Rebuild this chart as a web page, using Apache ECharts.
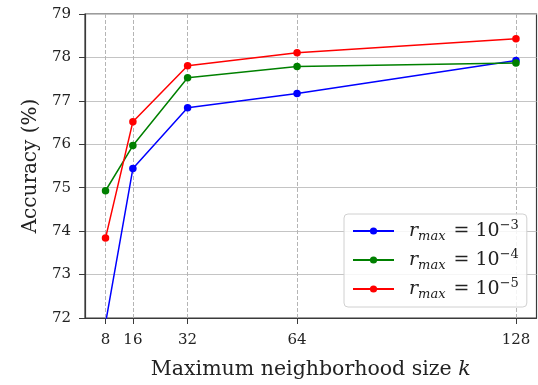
<!DOCTYPE html>
<html>
<head>
<meta charset="utf-8">
<script src="https://cdn.jsdelivr.net/npm/echarts@6/dist/echarts.min.js"></script>
<style>html,body{margin:0;padding:0;background:#fff;}#chart{width:538px;height:385px;}</style>
</head>
<body>
<div id="chart"></div>
<script>
const xTicks = [8, 16, 32, 64, 128];
const kValues = [8, 16, 32, 64, 128];
const accR3 = [71.88, 75.44, 76.84, 77.17, 77.93];
const accR4 = [74.93, 75.97, 77.53, 77.79, 77.87];
const accR5 = [73.84, 76.52, 77.81, 78.11, 78.43];
const seriesNames = ['r3', 'r4', 'r5'];
const seriesExp = ['−3', '−4', '−5'];
const seriesColors = ['#0000ff', '#008000', '#ff0000'];
const yMin = 72, yMax = 79, yStep = 1;
const xMin = 2, xMax = 134;

const font = 'DejaVu Serif';
const chart = echarts.init(document.getElementById('chart'), null, {renderer: 'canvas'});
const allData = [accR3, accR4, accR5];
const series = allData.map((vals, i) => ({
  name: seriesNames[i],
  type: 'line',
  data: kValues.map((k, j) => [k, vals[j]]),
  symbol: 'circle',
  symbolSize: 7.5,
  clip: true,
  color: seriesColors[i],
  lineStyle: {width: 1.5, color: seriesColors[i]},
  itemStyle: {color: seriesColors[i]},
  animation: false,
  z: 3 + i
}));

chart.setOption({
  animation: false,
  grid: {left: 85, right: 1.5, top: 14, bottom: 65.5, show: true, borderColor: '#3a3a3a', borderWidth: 1.2, containLabel: false},
  legend: {
    orient: 'vertical',
    left: 344, top: 214,
    padding: [5, 8, 6, 8],
    itemGap: 5,
    itemWidth: 41, itemHeight: 9,
    backgroundColor: 'rgba(255,255,255,0.85)',
    borderColor: '#d0d0d0', borderWidth: 1, borderRadius: 4,
    data: seriesNames,
    formatter: function (name) {
      const i = seriesNames.indexOf(name);
      return '{r|r}{sub|max}{eq| = 10}{sup|' + seriesExp[i] + '}';
    },
    textStyle: {
      fontFamily: font, color: '#222',
      rich: {
        r: {fontFamily: font, fontStyle: 'italic', fontSize: 19, lineHeight: 24, color: '#222', padding: [0, 0, 0, 10]},
        sub: {fontFamily: font, fontStyle: 'italic', fontSize: 13, lineHeight: 12, verticalAlign: 'bottom', color: '#222'},
        eq: {fontFamily: font, fontSize: 19, lineHeight: 24, color: '#222', padding: [0, 0, 0, 2]},
        sup: {fontFamily: font, fontSize: 13, lineHeight: 12, verticalAlign: 'top', color: '#222'}
      }
    }
  },
  xAxis: {
    type: 'value', min: xMin, max: xMax,
    name: '{a|Maximum neighborhood size }{k|k}',
    nameLocation: 'middle', nameGap: 41,
    nameTextStyle: {rich: {
      a: {fontFamily: font, fontSize: 20.5, color: '#222'},
      k: {fontFamily: font, fontSize: 20.5, fontStyle: 'italic', color: '#222'}
    }},
    axisLine: {show: true, onZero: false, lineStyle: {color: '#3a3a3a', width: 1.2}},
    axisTick: {show: true, customValues: xTicks, length: 6, lineStyle: {color: '#3a3a3a'}},
    axisLabel: {customValues: xTicks, fontFamily: font, fontSize: 15, color: '#222', margin: 15},
    splitLine: {show: true, lineStyle: {color: '#b5b5b5', type: [4, 2], width: 1}}
  },
  yAxis: {
    type: 'value', min: yMin, max: yMax, interval: yStep,
    name: 'Accuracy (%)',
    nameLocation: 'middle', nameGap: 44,
    nameTextStyle: {fontFamily: font, fontSize: 20, color: '#222'},
    axisLine: {show: true, lineStyle: {color: '#3a3a3a', width: 1.2}},
    axisTick: {show: true, length: 6, lineStyle: {color: '#3a3a3a'}},
    axisLabel: {fontFamily: font, fontSize: 15, color: '#222', margin: 14},
    splitLine: {show: true, lineStyle: {color: '#c4c4c4', width: 1}}
  },
  series: series
});
</script>
</body>
</html>
